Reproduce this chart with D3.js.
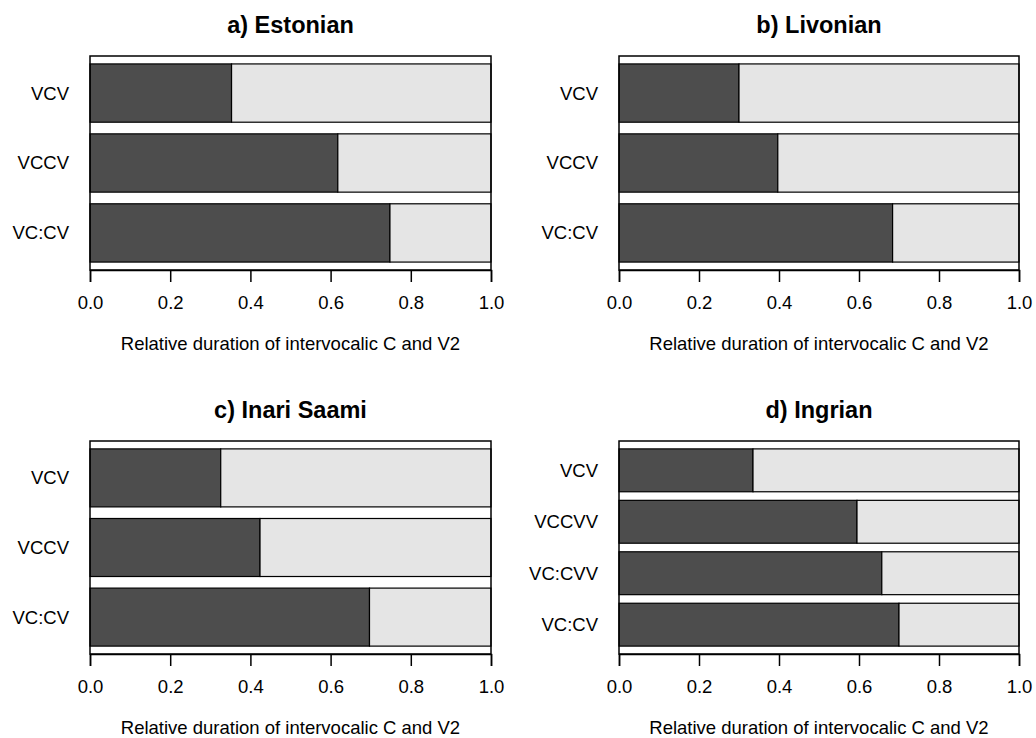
<!DOCTYPE html>
<html>
<head>
<meta charset="utf-8">
<script src="https://cdn.jsdelivr.net/npm/d3@7"></script>
<style>
  body { margin: 0; background: #fff; }
  text { font-family: "Liberation Sans", Arial, Helvetica, sans-serif; fill: #000; }
</style>
</head>
<body>
<div id="container"></div>
<script>
/**
 * DATA
 * */
const panelTitles = ["a) Estonian", "b) Livonian", "c) Inari Saami", "d) Ingrian"]

const categoriesEstonian = ["VCV", "VCCV", "VC:CV"]
const consonantEstonian = [0.353, 0.618, 0.748]
const vowelEstonian = [0.647, 0.382, 0.252]

const categoriesLivonian = ["VCV", "VCCV", "VC:CV"]
const consonantLivonian = [0.300, 0.397, 0.684]
const vowelLivonian = [0.700, 0.603, 0.316]

const categoriesInari = ["VCV", "VCCV", "VC:CV"]
const consonantInari = [0.326, 0.424, 0.697]
const vowelInari = [0.674, 0.576, 0.303]

const categoriesIngrian = ["VCV", "VCCVV", "VC:CVV", "VC:CV"]
const consonantIngrian = [0.335, 0.595, 0.657, 0.700]
const vowelIngrian = [0.665, 0.405, 0.343, 0.300]

const xTicks = [0, 0.2, 0.4, 0.6, 0.8, 1.0]
const xLabel = "Relative duration of intervocalic C and V2"

/**
 * LAYOUT
 * */
const width = 1036, height = 738
const panels = [
  { title: panelTitles[0], cats: categoriesEstonian, c: consonantEstonian, v: vowelEstonian, x0: 90, x1: 491, y0: 56, y1: 270 },
  { title: panelTitles[1], cats: categoriesLivonian, c: consonantLivonian, v: vowelLivonian, x0: 619, x1: 1019, y0: 56, y1: 270 },
  { title: panelTitles[2], cats: categoriesInari, c: consonantInari, v: vowelInari, x0: 90, x1: 491, y0: 441, y1: 654 },
  { title: panelTitles[3], cats: categoriesIngrian, c: consonantIngrian, v: vowelIngrian, x0: 619, x1: 1019, y0: 441, y1: 654 },
]

const svg = d3.select('#container')
  .append('svg')
  .attr('width', width)
  .attr('height', height)

panels.forEach(p => {
  const g = svg.append('g')
  const n = p.cats.length

  const x = d3.scaleLinear().domain([0, 1]).range([p.x0, p.x1])
  // R barplot style: space 0.2, 4% extension of the range each side
  const outer = 0.04 * (n * 1.2 - 0.2) / 1.2
  const y = d3.scaleBand()
    .domain(p.cats)
    .range([p.y0, p.y1])
    .paddingInner(0.2 / 1.2)
    .paddingOuter(outer)

  const rows = p.cats.map((cat, i) => ({ cat, c: p.c[i], v: p.v[i] }))

  // consonant part
  g.selectAll('.cons')
    .data(rows)
    .join('rect')
    .attr('class', 'cons')
    .attr('x', x(0))
    .attr('y', d => y(d.cat))
    .attr('width', d => x(d.c) - x(0))
    .attr('height', y.bandwidth())
    .attr('fill', '#4d4d4d')
    .attr('stroke', '#000')
    .attr('stroke-width', 1.2)

  // V2 part
  g.selectAll('.vow')
    .data(rows)
    .join('rect')
    .attr('class', 'vow')
    .attr('x', d => x(d.c))
    .attr('y', d => y(d.cat))
    .attr('width', d => x(d.c + d.v) - x(d.c))
    .attr('height', y.bandwidth())
    .attr('fill', '#e5e5e5')
    .attr('stroke', '#000')
    .attr('stroke-width', 1.2)

  // box
  g.append('rect')
    .attr('x', p.x0)
    .attr('y', p.y0)
    .attr('width', p.x1 - p.x0)
    .attr('height', p.y1 - p.y0)
    .attr('fill', 'none')
    .attr('stroke', '#000')
    .attr('stroke-width', 1.5)

  // category labels
  g.selectAll('.cat')
    .data(rows)
    .join('text')
    .attr('class', 'cat')
    .attr('x', p.x0 - 21)
    .attr('y', d => y(d.cat) + y.bandwidth() / 2)
    .attr('dy', '0.35em')
    .attr('text-anchor', 'end')
    .style('font-size', '18.5px')
    .text(d => d.cat)

  // x axis
  const axis = g.append('g')
    .attr('transform', `translate(0,${p.y1})`)
    .call(d3.axisBottom(x).tickValues(xTicks).tickFormat(d3.format('.1f')).tickSize(12).tickPadding(14))
  axis.select('.domain').attr('stroke', '#000').attr('stroke-width', 1.5)
  axis.selectAll('.tick line').attr('stroke', '#000').attr('stroke-width', 1.5)
  axis.selectAll('.tick text')
    .style('font-size', '18.5px')
    .style('font-family', '"Liberation Sans", Arial, sans-serif')
    .attr('fill', '#000')

  // axis title
  g.append('text')
    .attr('x', (p.x0 + p.x1) / 2)
    .attr('y', p.y1 + 80)
    .attr('text-anchor', 'middle')
    .style('font-size', '18.5px')
    .text(xLabel)

  // panel title
  g.append('text')
    .attr('x', (p.x0 + p.x1) / 2)
    .attr('y', p.y0 - 23)
    .attr('text-anchor', 'middle')
    .style('font-size', '23.5px')
    .style('font-weight', 'bold')
    .text(p.title)
})
</script>
</body>
</html>
